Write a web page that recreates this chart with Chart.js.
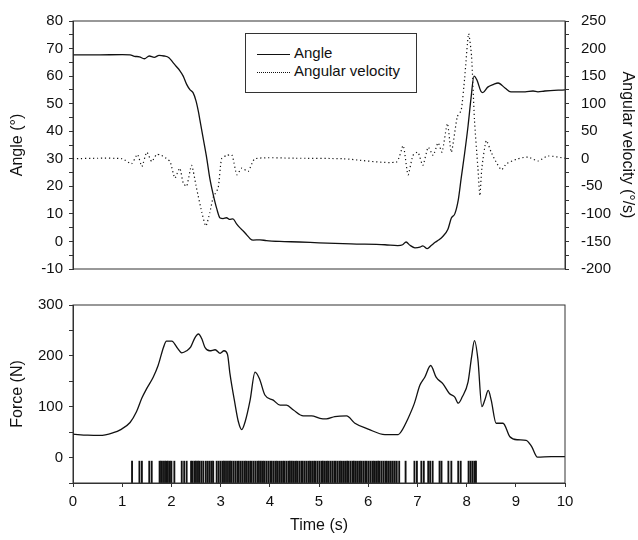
<!DOCTYPE html>
<html>
<head>
<meta charset="utf-8">
<script src="https://cdn.jsdelivr.net/npm/chart.js@4"></script>
<style>
	body { margin: 0; background: #fff; }
	#page { position: relative; width: 638px; height: 540px; }
	#top { position: absolute; left: 0; top: 0; width: 638px; height: 290px; }
	#bottom { position: absolute; left: 0; top: 290px; width: 638px; height: 250px; }
	#legend {
		position: absolute; left: 245px; top: 33px; width: 170px; height: 58px;
		border: 1px solid #333; background: #fff;
		font-family: 'Liberation Sans', Arial, sans-serif; font-size: 15px; color: #111;
	}
	#legend div { position: absolute; left: 11px; height: 18px; line-height: 18px; }
	#legend span.line { display: inline-block; width: 33px; vertical-align: middle; margin-right: 4px; }
</style>
</head>
<body>
<div id="page">
	<div id="top"><canvas id="angleChart"></canvas></div>
	<div id="bottom"><canvas id="forceChart"></canvas></div>
	<div id="legend">
		<div style="top: 10px;"><span class="line" style="border-top: 1px solid #111;"></span>Angle</div>
		<div style="top: 28px;"><span class="line" style="border-top: 1px dotted #111;"></span>Angular velocity</div>
	</div>
</div>
<script>
// Angle trace (time in s, angle in degrees)
const angleTime = [0, 0.5, 1.0, 1.16, 1.25, 1.35, 1.45, 1.55, 1.65, 1.75, 1.85, 1.95, 2.03, 2.1, 2.17, 2.24, 2.31, 2.38, 2.44, 2.5, 2.55, 2.58, 2.64, 2.72, 2.78, 2.85, 2.92, 2.99, 3.05, 3.12, 3.18, 3.25, 3.32, 3.39, 3.46, 3.53, 3.6, 3.66, 3.8, 3.93, 4.2, 4.6, 5.0, 5.65, 6.34, 6.6, 6.7, 6.77, 6.85, 6.95, 7.05, 7.11, 7.2, 7.28, 7.36, 7.44, 7.52, 7.62, 7.69, 7.76, 7.83, 7.89, 7.96, 8.03, 8.09, 8.15, 8.21, 8.29, 8.33, 8.43, 8.55, 8.64, 8.78, 8.9, 9.19, 9.35, 9.45, 9.59, 10.0];
const angleDeg = [67.7, 67.7, 67.8, 67.7, 67.2, 67.0, 66.3, 67.3, 66.8, 67.5, 67.3, 66.7, 65, 63.5, 62, 60, 57, 55, 54, 51, 47, 44, 38, 30, 23, 17, 12, 8.5, 8.3, 8.6, 8.0, 8.2, 6.5, 5, 3.8, 2.4, 1.0, 0.5, 0.6, 0.3, 0, -0.2, -0.5, -0.9, -1.2, -1.5, -1.2, -0.2, -1.4, -2.3, -2.1, -1.6, -2.6, -1.5, -0.3, 0.6, 1.9, 4.4, 8.5, 10, 15, 23, 32, 42, 52, 60, 58.6, 54.5, 54, 56, 57, 57.5, 55.7, 54.3, 54.3, 54.6, 54.3, 54.6, 55];

// Angular velocity trace (deg/s)
const velTime = [0, 0.5, 1.0, 1.19, 1.31, 1.4, 1.5, 1.6, 1.7, 1.8, 1.97, 2.07, 2.17, 2.24, 2.31, 2.41, 2.51, 2.62, 2.7, 2.78, 2.85, 2.95, 3.02, 3.12, 3.23, 3.33, 3.43, 3.56, 3.7, 4.5, 5.5, 6.57, 6.71, 6.81, 6.91, 7.01, 7.11, 7.22, 7.32, 7.42, 7.5, 7.61, 7.69, 7.81, 7.89, 7.96, 8.04, 8.1, 8.16, 8.23, 8.27, 8.31, 8.4, 8.5, 8.6, 8.71, 8.81, 9.04, 9.25, 9.45, 9.65, 10.0];
const velDeg = [0, 1, 0, -9, 8, -14, 12, -5, 8, 6, -5, -35, -17, -44, -50, -12, -53, -98, -122, -98, -70, -53, 0, 6, 7, -29, -17, -23, 0, 1, 0, -6, 24, -29, 6, 12, -12, 21, 6, 29, 12, 64, 12, 76, 88, 146, 227, 187, 70, -17, -67, -17, 33, 12, -6, -20, -9, 0, 3, -4, 5, 1];

// Force trace (N)
const forceTime = [0, 0.3, 0.55, 0.82, 0.96, 1.16, 1.29, 1.4, 1.5, 1.63, 1.73, 1.84, 1.9, 2.01, 2.11, 2.21, 2.31, 2.39, 2.48, 2.55, 2.62, 2.68, 2.78, 2.89, 2.99, 3.07, 3.14, 3.19, 3.29, 3.36, 3.43, 3.5, 3.6, 3.7, 3.79, 3.9, 4.07, 4.21, 4.34, 4.48, 4.68, 4.85, 5.02, 5.15, 5.32, 5.56, 5.73, 6.0, 6.34, 6.61, 6.67, 6.81, 6.94, 7.05, 7.15, 7.27, 7.38, 7.52, 7.65, 7.76, 7.83, 7.91, 8.03, 8.1, 8.16, 8.23, 8.31, 8.37, 8.44, 8.5, 8.6, 8.74, 8.88, 9.04, 9.21, 9.32, 9.44, 9.72, 10.0];
const forceN = [46, 44, 43.5, 49, 54.5, 69, 90, 117, 136, 158, 181, 217, 229, 229, 217, 206, 210, 217, 236, 243, 233, 217, 210, 212, 205, 210, 203, 165, 107, 71, 55, 71, 113, 168, 155, 123, 113, 103, 103, 93.5, 82, 82, 77, 76, 80.5, 82, 67.5, 56, 45, 45, 51, 77, 107, 142, 158, 181, 158, 145, 126, 119, 107, 119, 149, 197, 230, 193, 100, 113, 132, 113, 67.5, 67.5, 41, 35, 34, 22, 1, 2, 2];

// Motor unit spike times (s), drawn between spikeLow and spikeHigh
const spikeTimes = [1.20, 1.35, 1.40, 1.55, 1.60, 1.76, 1.79, 1.83, 1.87, 1.90, 1.93, 1.97, 2.00, 2.06, 2.21, 2.26, 2.31, 2.40, 2.43, 2.47, 2.50, 2.54, 2.57, 2.61, 2.65, 2.70, 2.74, 2.78, 2.82, 2.85, 2.92, 2.96,
	3.00, 3.04, 3.07, 3.11, 3.15, 3.19, 3.22, 3.26, 3.30, 3.34, 3.37, 3.41, 3.45, 3.49, 3.52, 3.56, 3.60, 3.63, 3.67, 3.71, 3.75, 3.78, 3.82, 3.86, 3.89, 3.93, 3.97, 4.01, 4.04, 4.08, 4.12, 4.15, 4.19, 4.23, 4.27, 4.30, 4.34, 4.38, 4.41, 4.45, 4.49, 4.53, 4.56, 4.60, 4.64, 4.67, 4.71, 4.75, 4.79, 4.82, 4.86, 4.90, 4.93, 4.97,
	5.01, 5.05, 5.08, 5.12, 5.16, 5.19, 5.23, 5.27, 5.31, 5.34, 5.38, 5.42, 5.45, 5.49, 5.53, 5.57, 5.60, 5.64, 5.68, 5.71, 5.75, 5.79, 5.83, 5.86, 5.90, 5.94, 5.97, 6.01, 6.05, 6.09, 6.12, 6.16, 6.20, 6.23, 6.27, 6.31, 6.35, 6.38, 6.42, 6.46, 6.50, 6.54, 6.58, 6.63,
	6.76, 6.94, 6.99, 7.08, 7.13, 7.22, 7.26, 7.31, 7.45, 7.49, 7.63, 7.69, 7.83, 7.88, 8.04, 8.08, 8.12, 8.16, 8.19];
const spikeLow = -50;
const spikeHigh = -7;

const font = "'Liberation Sans', Arial, sans-serif";
const ink = '#111';
const axisColor = '#333';

// Box round the plot area
const framePlugin = {
	id: 'frame',
	afterDatasetsDraw(chart) {
		const { ctx, chartArea } = chart;
		ctx.save();
		ctx.strokeStyle = axisColor;
		ctx.lineWidth = 1;
		ctx.strokeRect(chartArea.left, chartArea.top, chartArea.width, chartArea.height);
		ctx.restore();
	},
};

function toPoints(xs, ys) {
	return xs.map((x, i) => ({ x: x, y: ys[i] }));
}

function sideAxis(position, min, max, step, labelEvery, title, titlePad, labelPad) {
	return {
		type: 'linear',
		position: position,
		min: min,
		max: max,
		afterFit: (scale) => {
			scale.width = 73;
		},
		grid: { drawOnChartArea: false, tickLength: 4, color: axisColor },
		border: { display: true, color: axisColor },
		ticks: {
			stepSize: step,
			autoSkip: false,
			padding: labelPad,
			color: ink,
			font: { family: font, size: 15 },
			callback: (v) => (v % labelEvery === 0 && v >= min ? v : ''),
		},
		title: {
			display: true,
			text: title,
			color: ink,
			padding: { top: titlePad, bottom: 0 },
			font: { family: font, size: 16 },
		},
	};
}

// Top panel: angle and angular velocity
new Chart(document.getElementById('angleChart'), {
	type: 'line',
	data: {
		datasets: [
			{
				label: 'Angle',
				data: toPoints(angleTime, angleDeg),
				yAxisID: 'y',
				borderColor: ink,
				borderWidth: 1.3,
				pointRadius: 0,
				cubicInterpolationMode: 'monotone',
			},
			{
				label: 'Angular velocity',
				data: toPoints(velTime, velDeg),
				yAxisID: 'yv',
				borderColor: ink,
				borderWidth: 1.2,
				borderDash: [1.2, 2.8],
				pointRadius: 0,
				tension: 0.2,
			},
		],
	},
	options: {
		responsive: true,
		maintainAspectRatio: false,
		animation: false,
		layout: { padding: { top: 14, bottom: 19, left: 0, right: 0 } },
		plugins: { legend: { display: false }, tooltip: { enabled: false } },
		scales: {
			x: { type: 'linear', min: 0, max: 10, display: false },
			y: sideAxis('left', -10, 80, 5, 10, 'Angle (°)', 8, 6),
			yv: sideAxis('right', -200, 250, 25, 50, 'Angular velocity (°/s)', 1, 12),
		},
	},
	plugins: [framePlugin],
});

// Bottom panel: force and spike train
let forceAxis = sideAxis('left', -50, 300, 50, 100, 'Force (N)', 8, 6);
new Chart(document.getElementById('forceChart'), {
	type: 'line',
	data: {
		datasets: [
			{
				type: 'line',
				label: 'Force',
				data: toPoints(forceTime, forceN),
				borderColor: ink,
				borderWidth: 1.3,
				pointRadius: 0,
				cubicInterpolationMode: 'monotone',
			},
			{
				type: 'bar',
				label: 'Spikes',
				data: spikeTimes.map((t) => ({ x: t, y: [spikeLow, spikeHigh] })),
				backgroundColor: ink,
				borderWidth: 0,
				barThickness: 1.2,
			},
		],
	},
	options: {
		responsive: true,
		maintainAspectRatio: false,
		animation: false,
		layout: { padding: { top: 14, bottom: 0, left: 0, right: 73 } },
		plugins: { legend: { display: false }, tooltip: { enabled: false } },
		scales: {
			x: {
				type: 'linear',
				min: 0,
				max: 10,
				offset: false,
				afterFit: (scale) => {
					scale.height = 57;
				},
				grid: { drawOnChartArea: false, tickLength: 4, color: axisColor, offset: false },
				border: { display: true, color: axisColor },
				ticks: {
					stepSize: 1,
					padding: 6,
					color: ink,
					font: { family: font, size: 15 },
				},
				title: {
					display: true,
					text: 'Time (s)',
					color: ink,
					padding: { top: 0, bottom: 5 },
					font: { family: font, size: 16 },
				},
			},
			y: forceAxis,
		},
	},
	plugins: [framePlugin],
});
</script>
</body>
</html>
